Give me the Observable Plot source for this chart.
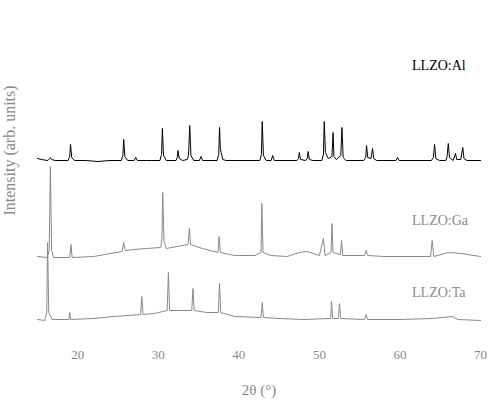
<!DOCTYPE html>
<html>
<head>
<meta charset="utf-8">
<script src="https://cdn.jsdelivr.net/npm/d3@7"></script>
<script src="https://cdn.jsdelivr.net/npm/@observablehq/plot@0.6"></script>
<style>
  html, body { margin: 0; padding: 0; background: #fff; }
  #chart svg { display: block; }
</style>
</head>
<body>
<div id="chart"></div>
<script>
// ---- data ----
const xTicks = [20, 30, 40, 50, 60, 70];
const seriesNames = ["LLZO:Al", "LLZO:Ga", "LLZO:Ta"];

// pattern 1 (top, black)
const p1Theta = [15.0,15.8,16.3,16.5,16.6,16.75,17.2,18.8,19.0,19.1,19.25,19.6,21.0,22.5,24.0,25.4,25.6,25.7,25.85,26.2,27.0,27.2,27.4,28.5,30.2,30.4,30.5,30.65,31.0,32.2,32.35,32.45,32.6,33.0,33.6,33.75,33.9,34.05,34.4,35.1,35.3,35.5,37.3,37.5,37.6,37.7,37.8,38.0,38.4,40.0,42.6,42.8,42.9,43.05,43.4,44.0,44.2,44.4,47.2,47.4,47.5,47.65,48.3,48.5,48.6,48.75,49.2,50.3,50.5,50.6,50.75,51.1,51.55,51.7,51.8,52.1,52.65,52.8,52.95,53.3,55.5,55.75,55.85,56.0,56.4,56.6,56.75,57.1,59.5,59.7,59.9,63.9,64.15,64.3,64.45,64.9,65.7,65.85,66.0,66.15,66.6,66.9,67.05,67.55,67.8,67.95,68.3,70.0];
const p1Int   = [2,0.5,0,2,3,1,0,0,4,16,3,0,0,-1,0,0,5,21,4,0,0,3,0,0,0,6,32,5,0,0,3,10,2,0,1,5,35,5,0,0,4,0,0,6,33,12,8,1,0,0,0,6,39,5,0,0,5,0,0,2,8,1,0,2,9,1,0,0,6,39,8,2,4,28,4,1,5,33,3,0,0,3,15,3,2,12,2,0,0,3,0,0,3,16,2,0,0,4,17,3,0,7,1,1,13,2,0,0];

// pattern 2 (middle, grey)
const p2Theta = [15.0,16.2,16.45,16.6,16.75,17.0,19.0,19.15,19.3,22.0,24.0,25.5,25.7,25.9,27.0,28.5,30.3,30.45,30.55,30.7,31.0,32.3,33.7,33.85,34.0,35.5,37.4,37.55,37.7,39.5,42.0,42.75,42.85,43.0,44.0,46.0,47.5,48.5,50.0,50.5,50.7,51.45,51.55,51.7,52.6,52.75,52.9,55.6,55.8,56.0,58.0,63.8,64.0,64.2,66.0,67.6,70.0];
const p2Int   = [2,1,8,92,8,1,1,14,1,2,5,7,16,8,9,10,11,20,66,18,10,12,14,30,14,10,6,22,6,3,3,6,55,6,3,2,6,7,3,20,3,6,35,6,4,18,3,3,8,3,2,2,18,2,6,5,2];

// pattern 3 (bottom, grey)
const p3Theta = [15.0,15.9,16.15,16.25,16.4,16.8,18.9,19.0,19.1,22.0,24.5,27.8,27.95,28.1,29.5,31.1,31.25,31.4,32.5,34.15,34.3,34.45,36.0,37.45,37.6,37.75,39.5,42.75,42.9,43.05,45.0,48.0,51.4,51.5,51.65,52.35,52.5,52.65,55.6,55.8,56.0,60.0,64.0,66.5,67.2,70.0];
const p3Int   = [3,2,10,80,10,3,3,10,3,4,6,8,26,8,9,12,50,12,12,12,34,12,10,10,39,10,6,5,20,5,4,3,4,21,4,4,19,4,3,8,3,3,4,6,3,2];

// ---- build tables for Plot ----
const toRows = (th, it) => th.map((t, i) => ({theta: t, intensity: it[i]}));
const patterns = [
  {name: seriesNames[0], rows: toRows(p1Theta, p1Int), offset: 177, color: "#000", labelY: 272},
  {name: seriesNames[1], rows: toRows(p2Theta, p2Int), offset: 79,  color: "#8a8a8a", labelY: 117},
  {name: seriesNames[2], rows: toRows(p3Theta, p3Int), offset: 15,  color: "#8a8a8a", labelY: 45}
];

const font = "Liberation Serif, Times New Roman, serif";

const marks = [];
for (const p of patterns) {
  marks.push(Plot.line(p.rows, {
    x: "theta",
    y: d => d.intensity + p.offset,
    stroke: p.color,
    strokeWidth: 1,
    curve: "linear"
  }));
  marks.push(Plot.text([p.name], {
    x: 61.5, y: p.labelY, text: d => d,
    textAnchor: "start", fill: p.color, fontSize: 14, fontWeight: "normal", fontFamily: font
  }));
}

marks.push(Plot.axisX({
  ticks: xTicks, tickSize: 0, tickPadding: 12,
  fontSize: 13, fontFamily: font, label: null, color: "#888"
}));
marks.push(Plot.text(["2θ (°)"], {
  frameAnchor: "bottom", x: 42.5, text: d => d, dy: 57,
  fontSize: 15, fontFamily: font, fill: "#888"
}));
marks.push(Plot.text(["Intensity (arb. units)"], {
  frameAnchor: "left", y: 187, text: d => d, dx: -28, rotate: -90,
  textAnchor: "middle",
  fontSize: 16, fontFamily: font, fill: "#888"
}));

const chart = Plot.plot({
  width: 490,
  height: 407,
  marginLeft: 37,
  marginRight: 10,
  marginTop: 20,
  marginBottom: 70,
  style: {background: "#fff", fontFamily: font},
  x: {domain: [15, 70], axis: null},
  y: {domain: [0, 317], axis: null},
  marks
});
document.getElementById("chart").appendChild(chart);
</script>
</body>
</html>
